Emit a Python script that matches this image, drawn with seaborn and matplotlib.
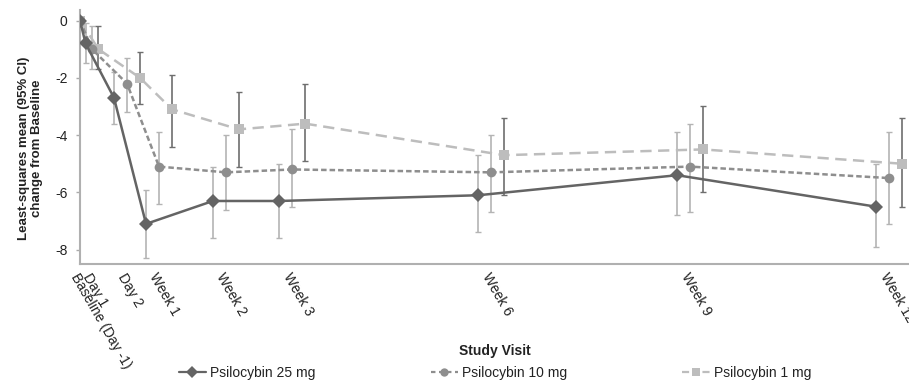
import matplotlib
matplotlib.use("Agg")
import matplotlib.pyplot as plt
from matplotlib.lines import Line2D
import numpy as np
import pandas as pd
import seaborn as sns

# study visits (x position on a roughly-by-day axis)
visits = ["Baseline (Day -1)", "Day 1", "Day 2", "Week 1", "Week 2",
          "Week 3", "Week 6", "Week 9", "Week 12"]
visit_x = [0, 1.27, 4.96, 8.34, 15.4, 22.4, 43.4, 64.4, 85.4]

doses = ["Psilocybin 25 mg", "Psilocybin 10 mg", "Psilocybin 1 mg"]

# least-squares mean change from baseline, with 95% CI
mean_25 = [0, -0.8, -2.7, -7.1, -6.3, -6.3, -6.1, -5.4, -6.5]
lo_25 = [0, -1.5, -3.6, -8.3, -7.6, -7.6, -7.4, -6.8, -7.9]
hi_25 = [0, -0.1, -1.8, -5.9, -5.1, -5.0, -4.7, -3.9, -5.0]

mean_10 = [0, -1.0, -2.2, -5.1, -5.3, -5.2, -5.3, -5.1, -5.5]
lo_10 = [0, -1.7, -3.2, -6.4, -6.6, -6.5, -6.7, -6.7, -7.1]
hi_10 = [0, -0.2, -1.3, -3.9, -4.0, -3.8, -4.0, -3.6, -3.9]

mean_1 = [0, -1.0, -2.0, -3.1, -3.8, -3.6, -4.7, -4.5, -5.0]
lo_1 = [0, -1.7, -2.9, -4.4, -5.1, -4.9, -6.1, -6.0, -6.5]
hi_1 = [0, -0.2, -1.1, -1.9, -2.5, -2.2, -3.4, -3.0, -3.4]

# horizontal nudge of each series so the CIs don't overlap
dodge = np.array([0, 0.68, 1.37, 1.37, 1.37, 1.37, 1.37, 1.37, 1.37])
shift = {doses[0]: -1, doses[1]: 0, doses[2]: 1}

line_col = {doses[0]: "#646464", doses[1]: "#8e8e8e", doses[2]: "#bdbdbd"}
err_col = {doses[0]: "#b4b4b4", doses[1]: "#b4b4b4", doses[2]: "#6e6e6e"}
marks = {doses[0]: "D", doses[1]: "o", doses[2]: "s"}
dash = {doses[0]: "", doses[1]: (2.2, 1.2), doses[2]: (4.5, 2.6)}
leg_dash = {doses[0]: None, doses[1]: (2, 1.6), doses[2]: (3.2, 1.4)}

frames = []
for d, m, lo, hi in zip(doses, [mean_25, mean_10, mean_1],
                        [lo_25, lo_10, lo_1], [hi_25, hi_10, hi_1]):
    frames.append(pd.DataFrame({
        "visit": visits,
        "x": np.array(visit_x) + shift[d] * dodge,
        "mean": m, "lo": lo, "hi": hi, "dose": d}))
df = pd.concat(frames, ignore_index=True)

sns.set_style("white")
plt.rcParams["font.family"] = ["Liberation Sans", "DejaVu Sans"]
plt.rcParams["axes.unicode_minus"] = False

fig = plt.figure(figsize=(9.09, 3.82), dpi=100)
ax = fig.add_axes([80 / 909, 1 - 264 / 382, 829 / 909, 253.5 / 382])

# confidence intervals first so the lines sit on top
for d in doses:
    sub = df[df.dose == d]
    ax.errorbar(sub.x, sub["mean"],
                yerr=[sub["mean"] - sub.lo, sub.hi - sub["mean"]],
                fmt="none", ecolor=err_col[d], elinewidth=1.2,
                capsize=2.5, capthick=1, zorder=1)

sns.lineplot(data=df, x="x", y="mean", hue="dose", style="dose",
             hue_order=doses[::-1], style_order=doses[::-1],
             palette=line_col, markers=marks, dashes=dash, sort=False,
             markersize=7, linewidth=1.8, markeredgewidth=0,
             legend=False, ax=ax, zorder=3)

ax.set_xlim(0, 87.5)
ax.set_ylim(-8.5, 0.35)
ax.set_yticks([0, -2, -4, -6, -8])
ax.set_xticks(visit_x)
ax.set_xticklabels(visits, rotation=-60, ha="left", va="top",
                   rotation_mode="anchor", fontsize=10, color="#222222")
ax.tick_params(axis="x", length=0, pad=5)
ax.tick_params(axis="y", length=3, width=1, color="#aaaaaa",
               labelsize=10, labelcolor="#222222", pad=6, left=True)

sns.despine(ax=ax)
for s in ["left", "bottom"]:
    ax.spines[s].set_color("#b0b0b0")
    ax.spines[s].set_linewidth(1.5)

ax.set_xlabel("Study Visit", fontsize=10, fontweight="bold", color="#222222")
ax.xaxis.set_label_coords(0.5, -(344 - 264) / 253.5)
ax.set_ylabel("Least-squares mean (95% CI)\nchange from Baseline",
              fontsize=9.5, fontweight="bold", linespacing=1.15,
              color="#222222")
ax.yaxis.set_label_coords(-0.0446, 0.458)

handles = []
for d in doses:
    h = Line2D([], [], color=line_col[d], marker=marks[d], markersize=6,
               markeredgewidth=0, linewidth=1.6)
    if leg_dash[d]:
        h.set_dashes(leg_dash[d])
    handles.append(h)
fig.legend(handles, doses, loc="center", ncol=3,
           bbox_to_anchor=(495 / 909, 1 - 373 / 382), frameon=False,
           fontsize=10, handlelength=1.95, handletextpad=0.3,
           columnspacing=8.3, labelcolor="#222222",
           borderpad=0, borderaxespad=0)

fig.savefig("out.png", dpi=100)
